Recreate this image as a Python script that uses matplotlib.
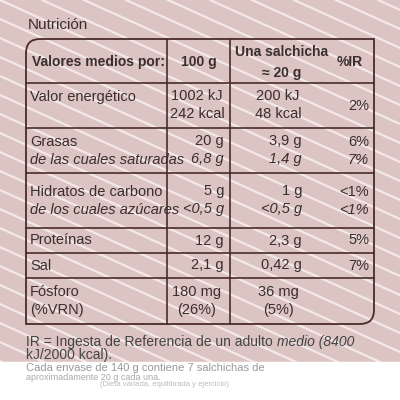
import matplotlib.pyplot as plt
from matplotlib.patches import Rectangle
from matplotlib.path import Path
from matplotlib.patches import PathPatch

plt.rcParams['font.family'] = ['Liberation Sans', 'DejaVu Sans']

# row labels and values as printed on the label
row_labels = [("Valor energético", None), ("Grasas", "de las cuales saturadas"),
              ("Hidratos de carbono", "de los cuales azúcares"), ("Proteínas", None),
              ("Sal", None), ("Fósforo", "(%VRN)")]
per_100g = [("1002 kJ", "242 kcal"), ("20 g", "6,8 g"), ("5 g", "<0,5 g"),
            ("12 g", None), ("2,1 g", None), ("180 mg", "(26%)")]
per_unit = [("200 kJ", "48 kcal"), ("3,9 g", "1,4 g"), ("1 g", "<0,5 g"),
            ("2,3 g", None), ("0,42 g", None), ("36 mg", "(5%)")]
pct_ir = [("2%", None), ("6%", "7%"), ("<1%", "<1%"), ("5%", None), ("7%", None), ("", None)]
row_edges = [83, 128, 173, 228, 253, 278, 324]
italic_second = [False, True, True, False, False, False]

line_c = "#4a2c2a"
text_c = "#3b2e2e"

fig = plt.figure(figsize=(4, 4), dpi=100)
ax = fig.add_axes([0, 0, 1, 1])
ax.set_xlim(0, 400)
ax.set_ylim(400, 0)
ax.axis("off")
fig.patch.set_facecolor("white")
ax.add_patch(Rectangle((0, 0), 400, 362, color="#dcc4c3", zorder=0))
# diagonal white stripes of the packaging, running down to the right
for k in range(-20, 12):
    ax.plot([k * 42, k * 42 + 800], [0, 362], color="#f3e9e9", lw=1.6, zorder=1)
ax.add_patch(Rectangle((0, 362), 400, 40, color="white", zorder=1))

ax.text(28, 25, "Nutrición", fontsize=11, color=text_c, va="center", zorder=3)

# table outline: rounded top-left and bottom-right corners
L, R, T, B, r = 26, 374, 39, 324, 14
verts = [(L, T + r), (L, T), (L + r, T), (R, T), (R, B - r), (R, B), (R - r, B), (L, B), (L, T + r)]
codes = [Path.MOVETO, Path.CURVE3, Path.CURVE3, Path.LINETO, Path.LINETO,
         Path.CURVE3, Path.CURVE3, Path.LINETO, Path.CLOSEPOLY]
ax.add_patch(PathPatch(Path(verts, codes), fc="none", ec=line_c, lw=1.3, zorder=3))
for xv in [167, 230]:
    ax.plot([xv, xv], [T, B], color=line_c, lw=1.2, zorder=3)
for yv in row_edges[:-1]:
    ax.plot([L, R], [yv, yv], color=line_c, lw=1.2, zorder=3)

hdr = dict(fontsize=10, fontweight="bold", color=text_c, va="center", zorder=4)
ax.text(98, 62, "Valores medios por:", ha="center", **hdr)
ax.text(199, 62, "100 g", ha="center", **hdr)
ax.text(282, 52, "Una salchicha", ha="center", **hdr)
ax.text(282, 73, "≈ 20 g", ha="center", **hdr)
ax.text(350, 62, "%IR", ha="center", **hdr)

txt = dict(fontsize=10.5, color=text_c, va="center", zorder=4)
for i, (top, bot) in enumerate(zip(row_edges[:-1], row_edges[1:])):
    mid = (top + bot) / 2
    l1, l2 = row_labels[i]
    ys = [mid - 9, mid + 9] if l2 or per_100g[i][1] else [mid, None]
    st2 = "italic" if italic_second[i] else "normal"
    ax.text(30, ys[0], l1, **txt)
    if l2:
        ax.text(30, ys[1], l2, style=st2, **txt)
    if i in (0, 5):
        cols = [(197, per_100g[i], "center"), (278, per_unit[i], "center")]
    else:
        cols = [(224, per_100g[i], "right"), (302, per_unit[i], "right")]
    cols.append((369, pct_ir[i], "right"))
    for xv, vals, ha in cols:
        if vals[1]:
            ax.text(xv, ys[0], vals[0], ha=ha, **txt)
            ax.text(xv, ys[1], vals[1], ha=ha, style=st2, **txt)
        else:
            ax.text(xv, mid, vals[0], ha=ha, **txt)

t1 = ax.text(26, 342, "IR = Ingesta de Referencia de un adulto ", fontsize=10, color="#444444", va="center", zorder=4)
fig.canvas.draw()
bb = t1.get_window_extent().transformed(ax.transData.inverted())
ax.text(bb.x1, 342, "medio (8400", fontsize=10, style="italic", color="#444444", va="center", zorder=4)
ax.text(26, 355, "kJ/2000 kcal).", fontsize=10, color="#444444", va="center", zorder=4)
ax.text(26, 368, "Cada envase de 140 g contiene 7 salchichas de", fontsize=8, color="#999999", va="center", zorder=4)
ax.text(26, 377, "aproximadamente 20 g cada una.", fontsize=6.5, color="#aaaaaa", va="center", zorder=4)
ax.text(100, 385, "(Dieta variada, equilibrada y ejercicio)", fontsize=5.5, color="#bbbbbb", va="center", zorder=4)

fig.savefig("out.png", dpi=100)
